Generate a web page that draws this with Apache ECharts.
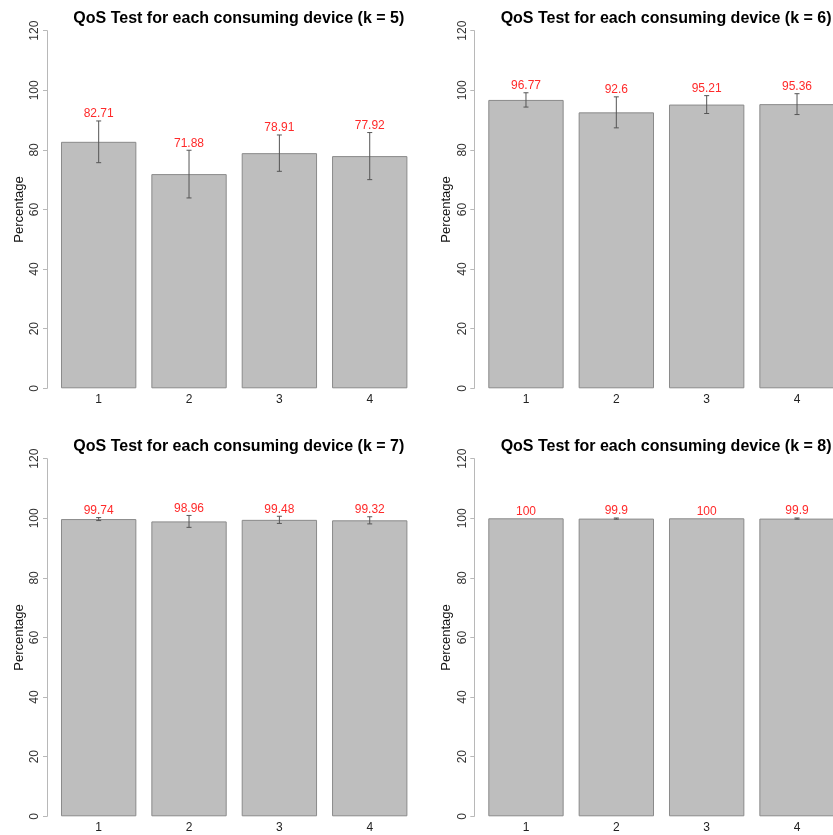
<!DOCTYPE html>
<html>
<head>
<meta charset="utf-8">
<style>
  html, body { margin: 0; padding: 0; background: #ffffff; }
  #chart { width: 833px; height: 835px; }
</style>
<script src="https://cdn.jsdelivr.net/npm/echarts@6/dist/echarts.min.js"></script>
</head>
<body>
<div id="chart"></div>
<script>
const categories = ["1", "2", "3", "4"];
const yTicks = [0, 20, 40, 60, 80, 100, 120];

const meanK5 = [82.71, 71.88, 78.91, 77.92];
const sdK5 = [7.0, 8.0, 6.1, 7.9];
const meanK6 = [96.77, 92.6, 95.21, 95.36];
const sdK6 = [2.4, 5.2, 3.0, 3.5];
const meanK7 = [99.74, 98.96, 99.48, 99.32];
const sdK7 = [0.5, 2.0, 1.2, 1.2];
const meanK8 = [100, 99.9, 100, 99.9];
const sdK8 = [0, 0.2, 0, 0.2];

const panels = [
  { k: 5, mean: meanK5, sd: sdK5 },
  { k: 6, mean: meanK6, sd: sdK6 },
  { k: 7, mean: meanK7, sd: sdK7 },
  { k: 8, mean: meanK8, sd: sdK8 },
];

const FONT = "'Liberation Sans', Arial, Helvetica, sans-serif";
const colStep = 427.3;
const rowStep = 428;

const chart = echarts.init(document.getElementById("chart"));

const grids = [];
const xAxes = [];
const yAxes = [];
const titles = [];
const series = [];

panels.forEach((p, i) => {
  const col = i % 2;
  const row = Math.floor(i / 2);
  const left = 53.5 + col * colStep;
  const top = 30.7 + row * rowStep;

  // right-hand panels run past the page edge, as in the original crop
  grids.push({
    left: left,
    top: top,
    width: 361.4,
    height: 357.6,
    outerBoundsMode: "none",
    containLabel: false,
  });

  titles.push({
    text: "QoS Test for each consuming device (k = " + p.k + ")",
    left: 233.8 + col * colStep,
    top: 5.5 + row * rowStep,
    textAlign: "center",
    textStyle: { fontFamily: FONT, fontSize: 16, fontWeight: "bold", color: "#000" },
  });

  xAxes.push({
    type: "category",
    gridIndex: i,
    data: categories,
    axisLine: { show: false },
    axisTick: { show: false },
    axisLabel: { margin: 5, fontFamily: FONT, fontSize: 12, color: "#222" },
  });

  yAxes.push({
    type: "value",
    gridIndex: i,
    min: yTicks[0],
    max: yTicks[yTicks.length - 1],
    interval: 20,
    offset: 6.5,
    name: "Percentage",
    nameLocation: "middle",
    nameRotate: 90,
    nameGap: 21,
    nameTextStyle: { fontFamily: FONT, fontSize: 13, color: "#111" },
    axisLine: { show: true, lineStyle: { color: "#b8b8b8", width: 1 } },
    axisTick: { show: true, length: 4, lineStyle: { color: "#b8b8b8" } },
    axisLabel: { rotate: 90, margin: 6, fontFamily: FONT, fontSize: 12, color: "#333" },
    splitLine: { show: false },
  });

  series.push({
    type: "bar",
    xAxisIndex: i,
    yAxisIndex: i,
    data: p.mean,
    barCategoryGap: "16.6%",
    itemStyle: { color: "#bebebe", borderColor: "#8a8a8a", borderWidth: 1 },
    silent: true,
    animation: false,
  });

  series.push({
    type: "custom",
    xAxisIndex: i,
    yAxisIndex: i,
    data: p.mean.map((m, j) => [j, m, p.sd[j]]),
    animation: false,
    silent: true,
    z: 5,
    renderItem: (params, api) => {
      const x = api.value(0);
      const m = api.value(1);
      const s = api.value(2);
      const hi = api.coord([x, m + s]);
      const lo = api.coord([x, m - s]);
      const cap = 2.5;
      const line = { stroke: "#555", lineWidth: 1 };
      const children = [];
      if (s > 0) {
        children.push(
          { type: "line", shape: { x1: hi[0], y1: hi[1], x2: lo[0], y2: lo[1] }, style: line },
          { type: "line", shape: { x1: hi[0] - cap, y1: hi[1], x2: hi[0] + cap, y2: hi[1] }, style: line },
          { type: "line", shape: { x1: lo[0] - cap, y1: lo[1], x2: lo[0] + cap, y2: lo[1] }, style: line }
        );
      }
      children.push({
        type: "text",
        x: hi[0],
        y: hi[1] - 1,
        style: {
          text: String(m),
          fill: "#ff2a2a",
          font: "12px " + FONT,
          align: "center",
          verticalAlign: "bottom",
        },
      });
      return { type: "group", children: children };
    },
  });
});

chart.setOption({
  backgroundColor: "#ffffff",
  animation: false,
  title: titles,
  grid: grids,
  xAxis: xAxes,
  yAxis: yAxes,
  series: series,
});
</script>
</body>
</html>
